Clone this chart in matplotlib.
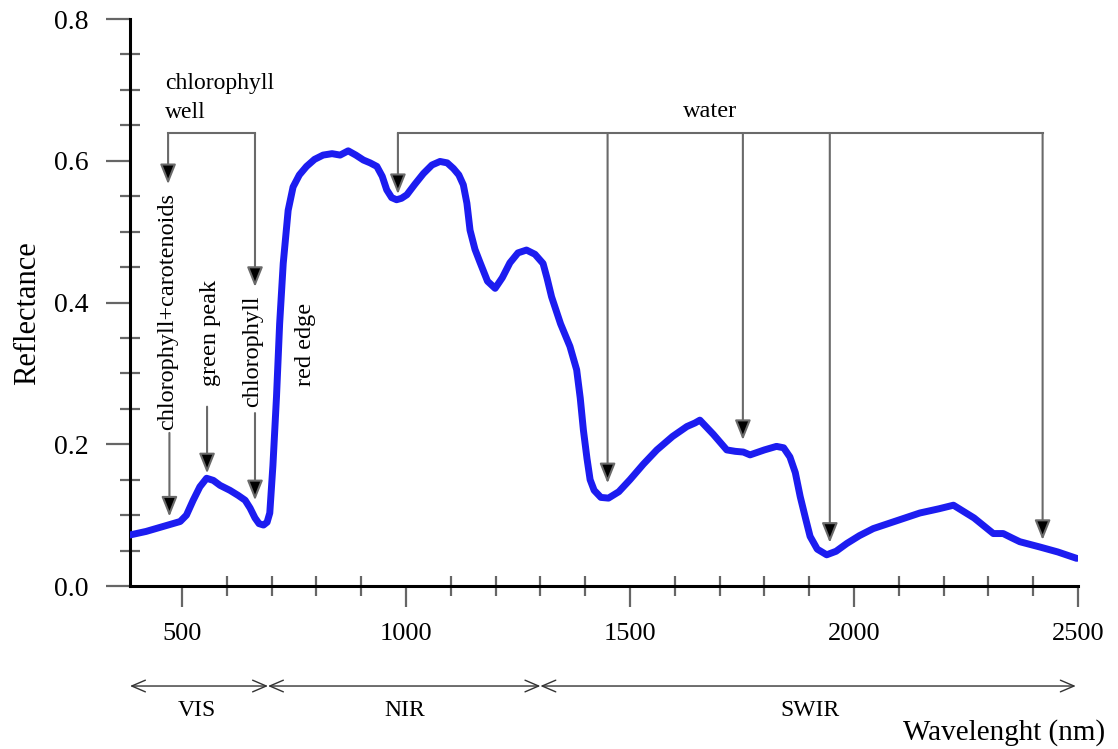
import numpy as np
import matplotlib
matplotlib.use("Agg")
import matplotlib.pyplot as plt
from matplotlib.ticker import FixedLocator, FormatStrFormatter

plt.rcParams['font.family'] = ['Liberation Serif', 'DejaVu Serif']

# Reflectance spectrum
wavelength = [384, 420, 458, 496, 510, 525, 540, 555, 570, 585, 607, 625, 641, 652, 663,
              672, 682, 690, 696, 703, 711, 718, 726, 737, 748, 762, 778, 796, 815, 835,
              853, 871, 888, 905, 920, 935, 947, 957, 968, 979, 990, 1002, 1020, 1039,
              1058, 1076, 1092, 1106, 1118, 1128, 1136, 1143, 1154, 1165, 1182, 1199,
              1215, 1232, 1250, 1269, 1288, 1306, 1315, 1325, 1345, 1366, 1381, 1389,
              1396, 1404, 1411, 1420, 1435, 1452, 1475, 1500, 1530, 1560, 1595, 1627,
              1645, 1656, 1686, 1716, 1735, 1753, 1768, 1800, 1827, 1843, 1857, 1869,
              1880, 1892, 1902, 1918, 1939, 1960, 1984, 2012, 2043, 2095, 2147, 2190,
              2222, 2268, 2311, 2333, 2352, 2370, 2415, 2455, 2497]
reflectance = [0.072, 0.077, 0.084, 0.091, 0.100, 0.121, 0.140, 0.152, 0.149, 0.142,
               0.135, 0.128, 0.121, 0.110, 0.096, 0.088, 0.086, 0.090, 0.103, 0.170,
               0.267, 0.370, 0.455, 0.530, 0.563, 0.580, 0.592, 0.602, 0.608, 0.610,
               0.608, 0.614, 0.608, 0.601, 0.597, 0.592, 0.578, 0.559, 0.548, 0.545,
               0.547, 0.552, 0.567, 0.582, 0.594, 0.599, 0.597, 0.589, 0.580, 0.566,
               0.540, 0.502, 0.475, 0.457, 0.430, 0.420, 0.435, 0.456, 0.470, 0.474,
               0.468, 0.455, 0.434, 0.408, 0.370, 0.338, 0.305, 0.265, 0.220, 0.180,
               0.150, 0.135, 0.125, 0.124, 0.133, 0.150, 0.172, 0.192, 0.211, 0.225,
               0.230, 0.234, 0.214, 0.192, 0.190, 0.189, 0.185, 0.192, 0.197, 0.195,
               0.182, 0.160, 0.126, 0.095, 0.070, 0.052, 0.044, 0.049, 0.060, 0.071,
               0.081, 0.092, 0.103, 0.109, 0.114, 0.096, 0.074, 0.074, 0.068, 0.0625,
               0.055, 0.048, 0.039]

# bracket annotations
bracket_y = 0.639
well_x = [469, 663]
well_tips = [0.567, 0.422]
water_x = [982, 1450, 1752, 1946, 2421]
water_tips = [0.553, 0.145, 0.206, 0.061, 0.065]

# lower arrows: (x, start, tip)
low_arrows = [(472, 0.216, 0.098), (556, 0.253, 0.159), (663, 0.244, 0.121)]
# rotated labels: (text, x, y)
rot_labels = [("chlorophyll+carotenoids", 469, 0.387),
              ("green peak", 563, 0.357),
              ("chlorophyll", 657, 0.331),
              ("red edge", 775, 0.341)]

regions = ["VIS", "NIR", "SWIR"]
region_edges = [384, 692, 1300, 2495]
region_label_x = [534, 998, 1902]

fig = plt.figure(figsize=(11.18, 7.49), dpi=100)
ax = fig.add_axes([130/1118, 1-586/749, 948/1118, 567/749])

ax.plot(wavelength, reflectance, color='#1c1cf0', lw=5, solid_capstyle='round',
        solid_joinstyle='round', zorder=3)

ax.set_xlim(384, 2500)
ax.set_ylim(0, 0.8)

for s in ['top', 'right']:
    ax.spines[s].set_visible(False)
for s in ['left', 'bottom']:
    ax.spines[s].set_linewidth(2.2)
    ax.spines[s].set_color('black')

ax.xaxis.set_major_locator(FixedLocator([500, 1000, 1500, 2000, 2500]))
ax.xaxis.set_minor_locator(FixedLocator([x for x in range(600, 2500, 100) if x % 500]))
ax.yaxis.set_major_locator(FixedLocator([0.0, 0.2, 0.4, 0.6, 0.8]))
ax.yaxis.set_minor_locator(FixedLocator([0.05, 0.1, 0.15, 0.25, 0.3, 0.35, 0.45, 0.5,
                                         0.55, 0.65, 0.7, 0.75]))
ax.yaxis.set_major_formatter(FormatStrFormatter('%.1f'))
ax.tick_params(axis='x', which='major', direction='out', length=15, width=1.6,
               color='#666666', labelsize=19, pad=12)
ax.tick_params(axis='x', which='minor', direction='inout', length=14, width=1.6,
               color='#666666')
ax.tick_params(axis='y', which='major', direction='out', length=17, width=1.6,
               color='#666666', labelsize=20, pad=13)
ax.tick_params(axis='y', which='minor', direction='inout', length=14, width=1.6,
               color='#666666')

ax.set_ylabel('Reflectance', fontsize=22)
ax.yaxis.set_label_coords(-0.093, 0.4815)

arrow_kw = dict(arrowstyle='-|>,head_length=0.55,head_width=0.22', ec='#6a6a6a',
                fc='black', lw=1.5, mutation_scale=22, shrinkA=0, shrinkB=0)
line_kw = dict(color='#6a6a6a', lw=1.5, zorder=2)

# chlorophyll well bracket
ax.plot(well_x, [bracket_y, bracket_y], **line_kw)
for x, tip in zip(well_x, well_tips):
    ax.annotate('', xy=(x, tip), xytext=(x, bracket_y), arrowprops=arrow_kw)
ax.text(463, 0.689, 'chlorophyll\nwell', fontsize=17, ha='left', va='center',
        linespacing=1.5)

# water bracket
ax.plot([water_x[0], water_x[-1]], [bracket_y, bracket_y], **line_kw)
for x, tip in zip(water_x, water_tips):
    ax.annotate('', xy=(x, tip), xytext=(x, bracket_y), arrowprops=arrow_kw)
ax.text(1679, 0.670, 'water', fontsize=17.5, ha='center', va='center')

for x, start, tip in low_arrows:
    ax.annotate('', xy=(x, tip), xytext=(x, start), arrowprops=arrow_kw)
for label, x, y in rot_labels:
    ax.text(x, y, label, rotation=90, fontsize=17.5, ha='center', va='center')

# spectral region arrows below axis
trans = ax.get_xaxis_transform()
reg_kw = dict(arrowstyle='<->,head_length=0.7,head_width=0.3', color='#333333',
              lw=1.0, mutation_scale=14, shrinkA=0, shrinkB=0)
for i, name in enumerate(regions):
    ax.annotate('', xy=(region_edges[i], -0.1764), xytext=(region_edges[i+1], -0.1764),
                xycoords=trans, textcoords=trans, arrowprops=reg_kw,
                annotation_clip=False)
    ax.text(region_label_x[i], -0.2187, name, transform=trans, fontsize=17,
            ha='center', va='center')

fig.text(1105/1118, 1-733/749, 'Wavelenght (nm)', fontsize=21, ha='right', va='center')

fig.savefig('out.png', dpi=100)
